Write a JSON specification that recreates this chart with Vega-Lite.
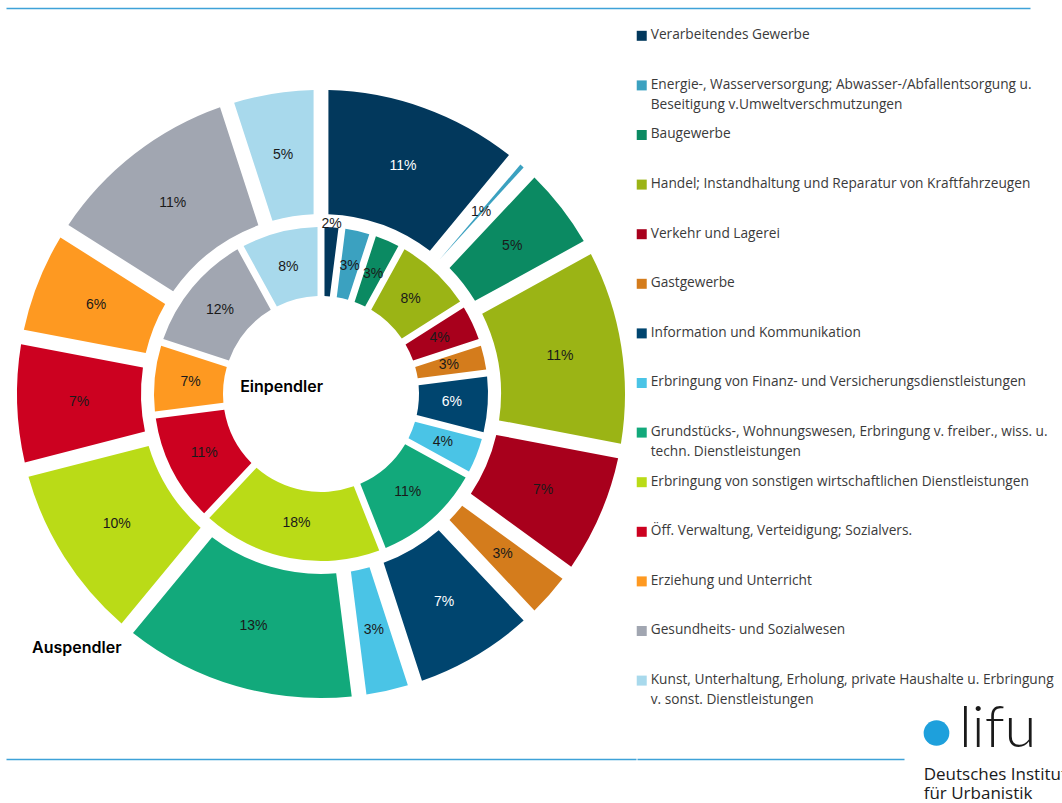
{
  "$schema": "https://vega.github.io/schema/vega-lite/v6.json",
  "padding": {"left": 6, "top": 8, "right": 0, "bottom": 0},
  "background": "white",
  "config": {"view": {"stroke": null}},
  "datasets": {
    "sectors": [
      {"k": 1, "category": "Verarbeitendes Gewerbe", "label": "Verarbeitendes Gewerbe", "ein": 0.02, "aus": 0.11},
      {"k": 2, "category": "Energie-, Wasserversorgung; Abwasser-/Abfallentsorgung u. Beseitigung v.Umweltverschmutzungen", "label": "Energie-, Wasserversorgung; Abwasser-/Abfallentsorgung u.\nBeseitigung v.Umweltverschmutzungen", "ein": 0.03, "aus": 0.01},
      {"k": 3, "category": "Baugewerbe", "label": "Baugewerbe", "ein": 0.03, "aus": 0.05},
      {"k": 4, "category": "Handel; Instandhaltung und Reparatur von Kraftfahrzeugen", "label": "Handel; Instandhaltung und Reparatur von Kraftfahrzeugen", "ein": 0.08, "aus": 0.11},
      {"k": 5, "category": "Verkehr und Lagerei", "label": "Verkehr und Lagerei", "ein": 0.04, "aus": 0.07},
      {"k": 6, "category": "Gastgewerbe", "label": "Gastgewerbe", "ein": 0.03, "aus": 0.03},
      {"k": 7, "category": "Information und Kommunikation", "label": "Information und Kommunikation", "ein": 0.06, "aus": 0.07},
      {"k": 8, "category": "Erbringung von Finanz- und Versicherungsdienstleistungen", "label": "Erbringung von Finanz- und Versicherungsdienstleistungen", "ein": 0.04, "aus": 0.03},
      {"k": 9, "category": "Grundstücks-, Wohnungswesen, Erbringung v. freiber., wiss. u. techn. Dienstleistungen", "label": "Grundstücks-, Wohnungswesen, Erbringung v. freiber., wiss. u.\ntechn. Dienstleistungen", "ein": 0.11, "aus": 0.13},
      {"k": 10, "category": "Erbringung von sonstigen wirtschaftlichen Dienstleistungen", "label": "Erbringung von sonstigen wirtschaftlichen Dienstleistungen", "ein": 0.18, "aus": 0.10},
      {"k": 11, "category": "Öff. Verwaltung, Verteidigung; Sozialvers.", "label": "Öff. Verwaltung, Verteidigung; Sozialvers.", "ein": 0.11, "aus": 0.07},
      {"k": 12, "category": "Erziehung und Unterricht", "label": "Erziehung und Unterricht", "ein": 0.07, "aus": 0.06},
      {"k": 13, "category": "Gesundheits- und Sozialwesen", "label": "Gesundheits- und Sozialwesen", "ein": 0.12, "aus": 0.11},
      {"k": 14, "category": "Kunst, Unterhaltung, Erholung, private Haushalte u. Erbringung v. sonst. Dienstleistungen", "label": "Kunst, Unterhaltung, Erholung, private Haushalte u. Erbringung\nv. sonst. Dienstleistungen", "ein": 0.08, "aus": 0.05}
    ]
  },
  "spacing": 0,
  "vconcat": [
    {
      "width": 1024,
      "height": 1,
      "data": {"values": [{}]},
      "mark": {"type": "point", "opacity": 0, "size": 0},
      "encoding": {
        "x": {"datum": 0, "type": "quantitative", "scale": {"domain": [0, 1]},
              "axis": {"orient": "top", "labels": false, "ticks": false, "grid": false, "title": null, "domainColor": "#3ea2d8", "domainWidth": 1.3}}
      }
    },
    {
      "spacing": 0,
      "hconcat": [
        {
          "width": 630,
          "height": 770,
          "data": {"name": "sectors"},
          "layer": [
            {
              "data": {"values": [{}]},
              "mark": {"type": "point", "opacity": 0, "size": 0},
              "encoding": {
                "x": {"datum": 0, "type": "quantitative", "scale": {"domain": [0, 1]},
                      "axis": {"orient": "bottom", "offset": -20, "labels": false, "ticks": false, "grid": false, "title": null, "domainColor": "#3ea2d8", "domainWidth": 1.3}}
              }
            },
            {
              "mark": {"type": "arc", "radius": 304, "radius2": 180, "padAngle": 0.042},
              "encoding": {
                "theta": {"field": "aus", "type": "quantitative", "stack": true},
                "order": {"field": "k", "type": "quantitative"},
                "color": {"field": "category", "type": "nominal", "sort": {"field": "k", "op": "min"}, "legend": null,
                          "scale": {"range": ["#02385c", "#3ba1c0", "#0b8a62", "#9bb415", "#a8001c", "#d47c1c", "#00456f", "#4ac4e6", "#12a97b", "#badb17", "#cc0120", "#fe9921", "#a1a6b1", "#a8d9ec"]}}
              }
            },
            {
              "mark": {"type": "arc", "radius": 167, "radius2": 98, "padAngle": 0.036},
              "encoding": {
                "theta": {"field": "ein", "type": "quantitative", "stack": true},
                "order": {"field": "k", "type": "quantitative"},
                "color": {"field": "category", "type": "nominal", "sort": {"field": "k", "op": "min"}, "legend": null}
              }
            },
            {
              "mark": {"type": "text", "radius": 242, "font": "Liberation Sans", "fontSize": 14, "align": "center", "baseline": "middle"},
              "encoding": {
                "theta": {"field": "aus", "type": "quantitative", "stack": true},
                "order": {"field": "k", "type": "quantitative"},
                "detail": {"field": "category", "type": "nominal"},
                "text": {"field": "aus", "type": "quantitative", "format": ".0%"},
                "color": {"condition": {"test": "datum.k === 1 || datum.k === 7", "value": "#ffffff"}, "value": "#1a1a1a"}
              }
            },
            {
              "mark": {"type": "text", "radius": 131, "font": "Liberation Sans", "fontSize": 14, "align": "center", "baseline": "middle"},
              "encoding": {
                "theta": {"field": "ein", "type": "quantitative", "stack": true},
                "order": {"field": "k", "type": "quantitative"},
                "detail": {"field": "category", "type": "nominal"},
                "text": {"field": "ein", "type": "quantitative", "format": ".0%"},
                "opacity": {"condition": {"test": "datum.k === 1", "value": 0}, "value": 1},
                "color": {"condition": {"test": "datum.k === 7", "value": "#ffffff"}, "value": "#1a1a1a"}
              }
            },
            {
              "transform": [{"filter": "datum.k === 1"}],
              "mark": {"type": "text", "radius": 170, "font": "Liberation Sans", "fontSize": 14, "align": "center", "baseline": "middle", "color": "#1a1a1a"},
              "encoding": {
                "theta": {"field": "ein", "type": "quantitative", "stack": true},
                "text": {"field": "ein", "type": "quantitative", "format": ".0%"}
              }
            },
            {
              "data": {"values": [{}]},
              "mark": {"type": "text", "text": "Einpendler", "radius": 40, "font": "Inter", "fontWeight": 600, "fontSize": 16, "align": "center", "baseline": "middle", "color": "#000000"},
              "encoding": {"theta": {"datum": 0.7778, "type": "quantitative"}}
            },
            {
              "data": {"values": [{}]},
              "mark": {"type": "text", "text": "Auspendler", "radius": 352, "font": "Inter", "fontWeight": 600, "fontSize": 16, "align": "center", "baseline": "middle", "color": "#000000"},
              "encoding": {"theta": {"datum": 0.622, "type": "quantitative"}}
            }
          ]
        },
        {
          "spacing": 0,
          "bounds": "flush",
          "vconcat": [
            {
              "width": 426,
              "height": 693,
              "data": {"name": "sectors"},
              "layer": [
                {
                  "mark": {"type": "point", "shape": "square", "filled": true, "size": 100, "opacity": 1},
                  "encoding": {
                    "y": {"field": "category", "type": "nominal", "sort": {"field": "k", "op": "min"},
                          "scale": {"type": "point", "padding": 0.486, "align": 0.556}, "axis": null},
                    "x": {"datum": 0.5, "type": "quantitative", "scale": {"domain": [0, 42.6]}, "axis": null},
                    "color": {"field": "category", "type": "nominal", "sort": {"field": "k", "op": "min"}, "legend": null}
                  }
                },
                {
                  "mark": {"type": "text", "align": "left", "baseline": "top", "dx": 9, "dy": -7.6, "font": "Open Sans", "fontSize": 13.7, "lineHeight": 20, "lineBreak": "\n", "color": "#3a3a3a"},
                  "encoding": {
                    "y": {"field": "category", "type": "nominal", "sort": {"field": "k", "op": "min"}},
                    "x": {"datum": 0.5, "type": "quantitative"},
                    "text": {"field": "label", "type": "nominal"}
                  }
                }
              ]
            },
            {
              "spacing": 18,
              "bounds": "flush",
              "hconcat": [
                {
                  "width": 267,
                  "height": 100,
                  "data": {"values": [{}]},
                  "mark": {"type": "point", "opacity": 0, "size": 0},
                  "encoding": {
                    "x": {"datum": 0, "type": "quantitative", "scale": {"domain": [0, 1]},
                          "axis": {"orient": "bottom", "offset": -43, "labels": false, "ticks": false, "grid": false, "title": null, "domainColor": "#3ea2d8", "domainWidth": 1.3}}
                  }
                },
                {
                  "width": 141,
                  "height": 100,
                  "data": {"values": [{}]},
                  "layer": [
                    {"mark": {"type": "point", "shape": "circle", "filled": true, "size": 660, "opacity": 1, "color": "#1ea0dc", "xOffset": -56, "yOffset": -19}},
                    {"mark": {"type": "text", "text": "lifu", "align": "left", "baseline": "alphabetic", "dx": -33.5, "dy": -4.7, "font": "Lato", "fontWeight": 300, "fontSize": 58, "color": "#1a1a1a"}},
                    {"mark": {"type": "text", "text": "Deutsches Institut", "align": "left", "baseline": "alphabetic", "dx": -68.8, "dy": 28, "font": "Open Sans", "fontSize": 17, "color": "#1a1a1a", "clip": true}},
                    {"mark": {"type": "text", "text": "für Urbanistik", "align": "left", "baseline": "alphabetic", "dx": -68.8, "dy": 47.3, "font": "Open Sans", "fontSize": 17, "color": "#1a1a1a"}}
                  ]
                }
              ]
            }
          ]
        }
      ]
    }
  ]
}
